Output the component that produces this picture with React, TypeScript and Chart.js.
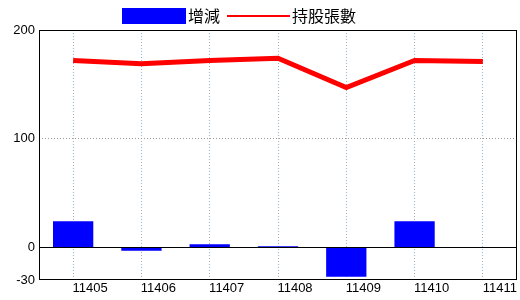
import React, { useEffect, useRef } from "react";
import { Chart, registerables } from "chart.js";

Chart.register(...registerables);

const categories = ["11405", "11406", "11407", "11408", "11409", "11410", "11411"];
const changeValues = [24, -3, 3, 1, -27, 24, 0];
const holdingValues = [172, 169, 172, 174, 147, 172, 171];
const yTicks = [-30, 0, 100, 200];
const legendLabels = ["增減", "持股張數"];

const AXIS_FONT = "'Liberation Sans Narrow', 'Liberation Sans', Arial, sans-serif";
const CJK_FONT = "'Noto Sans CJK TC', 'Noto Sans CJK SC', sans-serif";

const framePlugin = {
  id: "framePlugin",
  afterDatasetsDraw(chart: any) {
    const { ctx, chartArea, scales } = chart;
    const y0 = Math.round(scales.y.getPixelForValue(0)) + 0.5;
    ctx.save();
    ctx.strokeStyle = "#000";
    ctx.lineWidth = 1;
    ctx.beginPath();
    ctx.moveTo(chartArea.left, y0);
    ctx.lineTo(chartArea.right, y0);
    ctx.stroke();
    ctx.restore();
  },
  afterDraw(chart: any) {
    const { ctx, chartArea } = chart;
    ctx.save();
    ctx.strokeStyle = "#000";
    ctx.lineWidth = 1;
    ctx.strokeRect(
      Math.round(chartArea.left) + 0.5,
      Math.round(chartArea.top) + 0.5,
      Math.round(chartArea.right - chartArea.left) - 1,
      Math.round(chartArea.bottom - chartArea.top) - 1
    );
    // legend
    ctx.fillStyle = "#0000ff";
    ctx.fillRect(122, 8, 64, 16);
    ctx.font = "16px " + CJK_FONT;
    ctx.textBaseline = "middle";
    ctx.textAlign = "left";
    ctx.fillStyle = "#000";
    ctx.fillText(legendLabels[0], 188, 16);
    ctx.strokeStyle = "#ff0000";
    ctx.lineWidth = 2;
    ctx.beginPath();
    ctx.moveTo(227, 16);
    ctx.lineTo(290, 16);
    ctx.stroke();
    ctx.fillStyle = "#000";
    ctx.fillText(legendLabels[1], 292, 16);
    ctx.restore();
  },
};

export default function App() {
  const ref = useRef<HTMLCanvasElement | null>(null);
  useEffect(() => {
    if (!ref.current) return;
    const chart = new Chart(ref.current, {
      type: "bar",
      data: {
        labels: categories,
        datasets: [
          {
            type: "line",
            label: legendLabels[1],
            data: holdingValues,
            borderColor: "#ff0000",
            backgroundColor: "#ff0000",
            borderWidth: 5,
            pointRadius: 0,
            tension: 0,
            order: 0,
          } as any,
          {
            type: "bar",
            label: legendLabels[0],
            data: changeValues,
            backgroundColor: "#0000ff",
            borderWidth: 0,
            categoryPercentage: 1,
            barPercentage: 0.59,
            order: 1,
          },
        ],
      },
      options: {
        animation: false,
        responsive: false,
        maintainAspectRatio: false,
        layout: { padding: { top: 30, right: 3, left: 0, bottom: 0 } },
        plugins: { legend: { display: false }, tooltip: { enabled: false } },
        scales: {
          x: {
            offset: true,
            grid: {
              offset: false,
              drawTicks: false,
              color: "#9ab4c8",
              lineWidth: 1,
              borderDash: [1, 2],
            } as any,
            border: { display: false, dash: [1, 2] } as any,
            ticks: {
              color: "#000",
              font: { family: AXIS_FONT, size: 13 },
              padding: 1,
              labelOffset: 17,
              maxRotation: 0,
              autoSkip: false,
            },
            afterFit(scale: any) {
              scale.height = 20;
            },
          },
          y: {
            min: -30,
            max: 200,
            afterBuildTicks(scale: any) {
              scale.ticks = yTicks.map((v) => ({ value: v }));
            },
            grid: {
              drawTicks: false,
              color: (ctx: any) => (ctx.tick && ctx.tick.value === 100 ? "#999999" : "rgba(0,0,0,0)"),
              lineWidth: 1,
              borderDash: [1, 2],
            } as any,
            border: { display: false, dash: [1, 2] } as any,
            ticks: {
              color: "#000",
              font: { family: AXIS_FONT, size: 13 },
              padding: 4,
            },
            afterFit(scale: any) {
              scale.width = 39;
            },
          },
        },
      },
      plugins: [framePlugin],
    });
    return () => chart.destroy();
  }, []);
  return (
    <div style={{ position: "fixed", left: 0, top: 0, width: 520, height: 300, background: "#fff" }}>
      <canvas ref={ref} width={520} height={300} style={{ width: 520, height: 300 }} />
    </div>
  );
}
